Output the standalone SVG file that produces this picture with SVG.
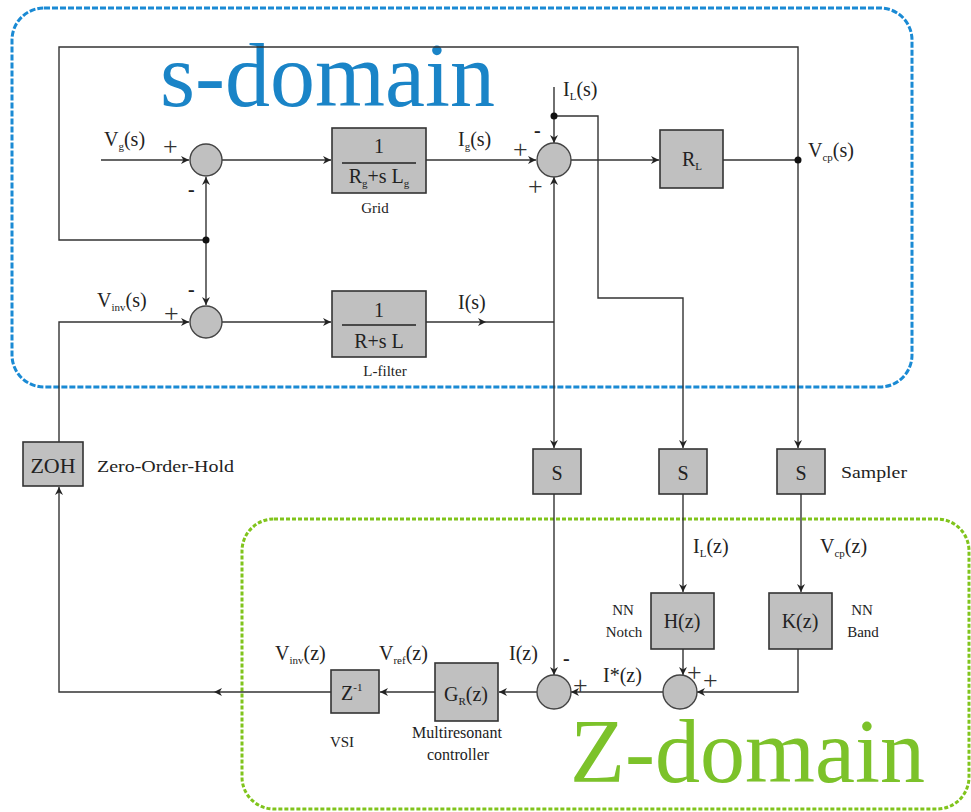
<svg xmlns="http://www.w3.org/2000/svg" width="971" height="812" viewBox="0 0 971 812">
<defs>
<marker id="ah" viewBox="0 0 10 10" refX="10" refY="5" markerWidth="9" markerHeight="8" markerUnits="userSpaceOnUse" orient="auto"><path d="M0,0 L10,5 L0,10 L3,5 z" fill="#222"/></marker>
<style>
.w{fill:none;stroke:#333;stroke-width:1.4}
.a{marker-end:url(#ah)}
.box{fill:#c0c0c0;stroke:#333;stroke-width:1.6}
.sum{fill:#c0c0c0;stroke:#444;stroke-width:1.4}
.t{font-family:'Liberation Serif','DejaVu Serif','Times New Roman',serif;font-size:20px;fill:#222}
.s{font-family:'Liberation Serif','DejaVu Serif','Times New Roman',serif;font-size:15px;fill:#222}
.p{font-family:'Liberation Serif','DejaVu Serif','Times New Roman',serif;font-size:26px;fill:#333}
.big{font-family:'Liberation Serif','DejaVu Serif','Times New Roman',serif;font-size:90px}
.c{text-anchor:middle}
.sub{font-size:11px}
.dot{fill:#111}
</style>
</defs>
<rect width="971" height="812" fill="#fff"/>
<rect x="12" y="8" width="900" height="379" rx="32" fill="none" stroke="#1a8ad4" stroke-width="3" stroke-dasharray="6 2"/>
<rect x="242" y="519" width="727" height="290" rx="32" fill="none" stroke="#80c41c" stroke-width="3" stroke-dasharray="4 2"/>
<text class="big" x="160" y="106" fill="#1a84c7">s-domain</text>
<text class="big" x="570" y="782" fill="#7cc22a">Z-domain</text>

<g id="connectors">
<path class="w a" d="M101,160 H189"/>
<path class="w a" d="M222,160 H331"/>
<path class="w a" d="M426,160 H536"/>
<path class="w a" d="M571,160 H659"/>
<path class="w" d="M723,160 H798"/>
<path class="w a" d="M206,240 H59 V47 H798 V448"/>
<path class="w a" d="M206,240 V177"/>
<path class="w a" d="M206,240 V305"/>
<path class="w a" d="M59,442 V322 H189"/>
<path class="w a" d="M222,322 H331"/>
<path class="w a" d="M426,322 H486"/>
<path class="w" d="M486,322 H554"/>
<path class="w a" d="M554,322 V177"/>
<path class="w a" d="M554,322 V448"/>
<path class="w a" d="M554,87 V143"/>
<path class="w a" d="M554,116 H598 V298 H683 V448"/>
<path class="w a" d="M554,494 V675"/>
<path class="w a" d="M683,494 V592"/>
<path class="w a" d="M801,494 V592"/>
<path class="w a" d="M683,649 V675"/>
<path class="w a" d="M798,649 V692 H697"/>
<path class="w a" d="M663,692 H571"/>
<path class="w a" d="M537,692 H499"/>
<path class="w a" d="M435,692 H380"/>
<path class="w a" d="M331,692 H214"/>
<path class="w a" d="M214,692 H59 V487"/>
<circle class="dot" cx="206" cy="240" r="3.5"/>
<circle class="dot" cx="554" cy="116" r="3.5"/>
<circle class="dot" cx="798" cy="160" r="3.5"/>
</g>

<g id="sum1"><circle class="sum" cx="206" cy="160" r="16"/>
<text class="p" x="163" y="155">+</text><text class="t" x="188" y="196" font-weight="bold">-</text></g>
<g id="sum2"><circle class="sum" cx="554" cy="160" r="17"/>
<text class="t" x="534" y="137" font-weight="bold">-</text><text class="p" x="513" y="158">+</text><text class="p" x="528" y="195">+</text></g>
<g id="sum3"><circle class="sum" cx="206" cy="322" r="16"/>
<text class="p" x="164" y="322">+</text><text class="t" x="188" y="296" font-weight="bold">-</text></g>
<g id="sum4"><circle class="sum" cx="554" cy="692" r="17"/>
<text class="t" x="563" y="665" font-weight="bold">-</text><text class="p" x="573" y="694">+</text></g>
<g id="sum5"><circle class="sum" cx="680" cy="692" r="17"/>
<text class="p" x="687" y="681">+</text><text class="p" x="703" y="689">+</text></g>

<g id="lbl-vg"><text class="t" x="104" y="146">V<tspan class="sub" dy="4">g</tspan><tspan dy="-4">(s)</tspan></text></g>
<g id="lbl-ig"><text class="t" x="458" y="146">I<tspan class="sub" dy="4">g</tspan><tspan dy="-4">(s)</tspan></text></g>
<g id="lbl-il"><text class="t" x="563" y="96">I<tspan class="sub" dy="4">L</tspan><tspan dy="-4">(s)</tspan></text></g>
<g id="lbl-vcp"><text class="t" x="808" y="157">V<tspan class="sub" dy="4">cp</tspan><tspan dy="-4">(s)</tspan></text></g>
<g id="lbl-vinv"><text class="t" x="97" y="307">V<tspan class="sub" dy="4">inv</tspan><tspan dy="-4">(s)</tspan></text></g>
<g id="lbl-is"><text class="t" x="458" y="309">I(s)</text></g>

<g id="grid"><rect class="box" x="332" y="128" width="94" height="65"/>
<text class="t c" x="379" y="153">1</text>
<line x1="342" y1="163" x2="416" y2="163" stroke="#222" stroke-width="1.3"/>
<text class="t c" x="379" y="183">R<tspan class="sub" dy="4">g</tspan><tspan dy="-4">+s L</tspan><tspan class="sub" dy="4">g</tspan></text>
<text class="s c" x="375" y="213">Grid</text></g>

<g id="lfilter"><rect class="box" x="332" y="291" width="94" height="66"/>
<text class="t c" x="379" y="317">1</text>
<line x1="342" y1="325" x2="416" y2="325" stroke="#222" stroke-width="1.3"/>
<text class="t c" x="379" y="348">R+s L</text>
<text class="s c" x="385" y="376">L-filter</text></g>

<g id="rl"><rect class="box" x="660" y="130" width="63" height="58"/>
<text class="t c" x="692" y="166">R<tspan class="sub" dy="4">L</tspan></text></g>

<g id="zoh"><rect class="box" x="23" y="442" width="60" height="44"/>
<text class="t c" x="53" y="473" style="font-size:22px">ZOH</text>
<text class="s" x="97" y="472" style="font-size:16px" textLength="137" lengthAdjust="spacingAndGlyphs">Zero-Order-Hold</text></g>

<g id="s1"><rect class="box" x="533" y="449" width="48" height="45"/><text class="t c" x="557" y="480">S</text></g>
<g id="s2"><rect class="box" x="659" y="449" width="48" height="45"/><text class="t c" x="683" y="480">S</text></g>
<g id="s3"><rect class="box" x="777" y="449" width="48" height="45"/><text class="t c" x="801" y="480">S</text>
<text class="s" x="841" y="478" style="font-size:16px" textLength="66" lengthAdjust="spacingAndGlyphs">Sampler</text></g>

<g id="lbl-ilz"><text class="t" x="693" y="553">I<tspan class="sub" dy="4">L</tspan><tspan dy="-4">(z)</tspan></text></g>
<g id="lbl-vcpz"><text class="t" x="820" y="553">V<tspan class="sub" dy="4">cp</tspan><tspan dy="-4">(z)</tspan></text></g>

<g id="hz"><rect class="box" x="651" y="593" width="63" height="56"/>
<text class="t c" x="682" y="628">H(z)</text>
<text class="s c" x="623" y="615">NN</text><text class="s c" x="624" y="637">Notch</text></g>
<g id="kz"><rect class="box" x="769" y="593" width="63" height="56"/>
<text class="t c" x="800" y="628">K(z)</text>
<text class="s c" x="862" y="615">NN</text><text class="s c" x="863" y="637">Band</text></g>

<g id="lbl-istar"><text class="t" x="603" y="682">I*(z)</text></g>
<g id="lbl-iz"><text class="t" x="509" y="660">I(z)</text></g>

<g id="gr"><rect class="box" x="435" y="663" width="63" height="58"/>
<text class="t c" x="466" y="701">G<tspan class="sub" dy="4">R</tspan><tspan dy="-4">(z)</tspan></text>
<text class="s c" x="457" y="738" style="font-size:16px">Multiresonant</text>
<text class="s c" x="458" y="760" style="font-size:16px">controller</text></g>
<g id="lbl-vref"><text class="t" x="379" y="660">V<tspan class="sub" dy="4">ref</tspan><tspan dy="-4">(z)</tspan></text></g>

<g id="z1"><rect class="box" x="331" y="670" width="48" height="43"/>
<text class="t" x="341" y="700">Z<tspan font-size="11" dy="-9">-1</tspan></text>
<text class="s c" x="342" y="747">VSI</text></g>
<g id="lbl-vinvz"><text class="t" x="275" y="660">V<tspan class="sub" dy="4">inv</tspan><tspan dy="-4">(z)</tspan></text></g>
</svg>
